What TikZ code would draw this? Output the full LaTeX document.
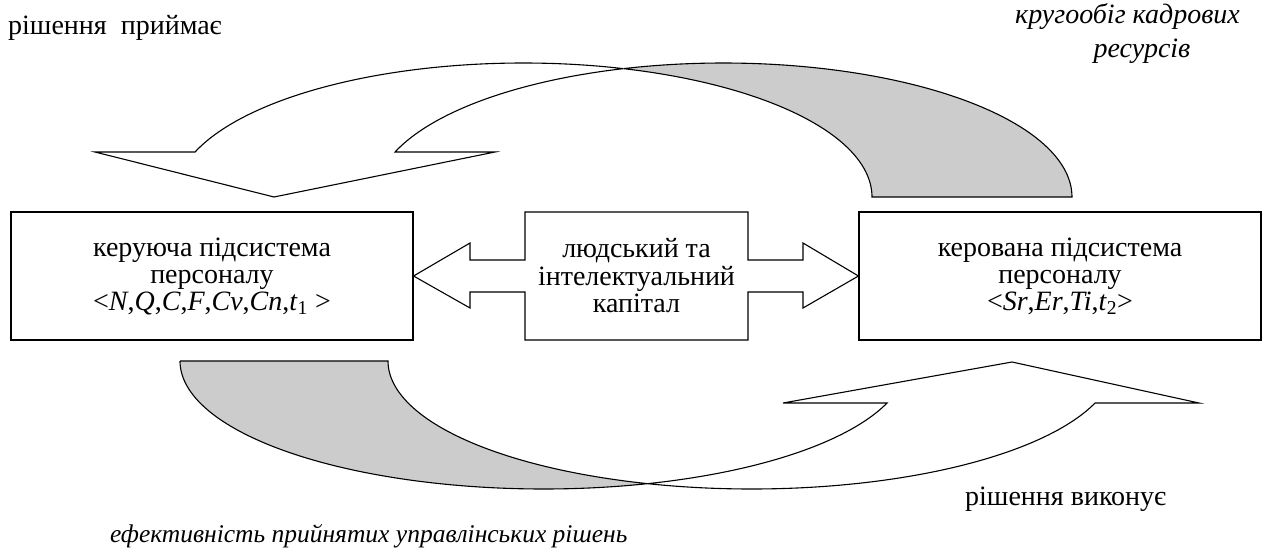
\documentclass[tikz,border=0pt]{standalone}
\usepackage{fontspec}
\setmainfont{Liberation Serif}
\begin{document}
\begin{tikzpicture}[x=1pt,y=-1pt,
  outline/.style={draw=black,line width=1.1pt,line join=miter},
  backside/.style={outline,fill={rgb,255:red,204;green,204;blue,204}},
  frontside/.style={outline,fill=white},
  sysbox/.style={draw=black,line width=1.1pt,fill=white,minimum width=402pt,minimum height=128pt,align=center,inner sep=0pt,
     font=\fontsize{28}{27}\selectfont},
  plain/.style={inner sep=0pt,font=\fontsize{28}{33}\selectfont},
  note/.style={inner sep=0pt,font=\fontsize{28}{33}\selectfont\itshape}]
\useasboundingbox (0,0) rectangle (1265,551);
% ---------- top curved arrow (curved down) ----------
\def\rx{348.6}\def\ry{134}
\filldraw[backside] (872,197) -- (1072,197)
  -- plot[domain=0:106.67,samples=80] ({723.4+\rx*cos(\x)},{197-\ry*sin(\x)})
  -- plot[domain=73.33:0,samples=80] ({523.4+\rx*cos(\x)},{197-\ry*sin(\x)}) -- cycle;
\filldraw[frontside] plot[domain=160.38:73.33,samples=120] ({523.4+\rx*cos(\x)},{197-\ry*sin(\x)})
  -- plot[domain=106.67:160.38,samples=80] ({723.4+\rx*cos(\x)},{197-\ry*sin(\x)})
  -- (495,152) -- (274,197) -- (95,152) -- cycle;
% ---------- bottom curved arrow (curved up) ----------
\def\sx{363.6}\def\sy{128}
\filldraw[backside] (180,361) -- (388,361)
  -- plot[domain=180:106.6,samples=80] ({751.6+\sx*cos(\x)},{361+\sy*sin(\x)})
  -- plot[domain=73.4:180,samples=120] ({543.6+\sx*cos(\x)},{361+\sy*sin(\x)}) -- cycle;
\filldraw[frontside] plot[domain=73.4:19.15,samples=80] ({543.6+\sx*cos(\x)},{361+\sy*sin(\x)})
  -- (783,403) -- (1012,362) -- (1199,403)
  -- plot[domain=19.15:106.6,samples=120] ({751.6+\sx*cos(\x)},{361+\sy*sin(\x)}) -- cycle;
% ---------- subsystem boxes ----------
\node[sysbox] (left) at (212,276) {керуюча підсистема\\персоналу\\<\textit{N},\textit{Q},\textit{C},\textit{F},\textit{Cv},\textit{Cn},\textit{t}\textsubscript{1} >};
\node[sysbox] (right) at (1060,276) {керована підсистема\\персоналу\\<\textit{Sr},\textit{Er},\textit{Ti},\textit{t}\textsubscript{2}>};
% ---------- double arrow with capital ----------
\draw[outline,fill=white] (left.east) -- (470,243) -- (470,260) -- (525,260) -- (525,212) -- (748,212)
  -- (748,260) -- (803,260) -- (803,243) -- (right.west) -- (803,308) -- (803,292) -- (748,292)
  -- (748,340) -- (525,340) -- (525,292) -- (470,292) -- (470,308) -- cycle;
\node[align=center,inner sep=0pt,font=\fontsize{28}{27.5}\selectfont] (capital) at (636.5,276) {людський та\\інтелектуальний\\капітал};
% ---------- labels ----------
\node[plain,anchor=base west] (takes) at (8,35) {рішення\ \ приймає};
\node[note,anchor=base east,align=right] (circ) at (1240,24) {кругообіг кадрових};
\node[note,anchor=base] (res) at (1142,57) {ресурсів};
\node[plain,anchor=base west] (exec) at (965,505) {рішення виконує};
\node[note,anchor=base west,font=\fontsize{25.5}{30}\selectfont\itshape] (eff) at (110,542) {ефективність прийнятих управлінських рішень};
\end{tikzpicture}
\end{document}
